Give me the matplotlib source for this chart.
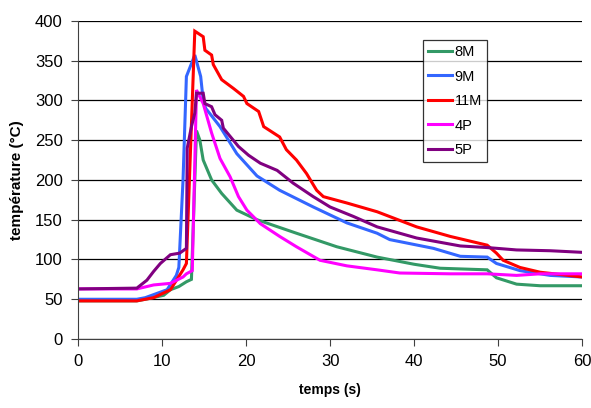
import numpy as np
import matplotlib.pyplot as plt

plt.rcParams['font.family'] = ['Liberation Sans', 'DejaVu Sans']

# ---- data ----
t_8m = [0, 7, 8, 10.2, 11, 12, 12.9, 13.5, 14.1, 14.5, 14.9, 15.9, 17.1, 18.9, 21.3,
        26, 30.8, 35.6, 40, 43.1, 48.7, 49.8, 52.2, 55, 60]
v_8m = [48, 48, 50, 55, 62, 66, 72, 75, 262, 250, 225, 200, 183, 162, 150,
        133, 116, 103, 94, 89, 87, 77, 69, 67, 67]

t_9m = [0, 7, 8, 10.6, 11.7, 12.0, 12.5, 12.9, 13.9, 14.6, 14.9, 15.2, 16.9, 18.9,
        21.3, 24, 28, 32, 35.6, 37.1, 42.3, 45.5, 48.7, 49.8, 52.6, 56.2, 60]
v_9m = [50, 50, 52, 62, 80, 90, 200, 330, 357, 330, 300, 290, 267, 233,
        205, 187, 166, 146, 133, 125, 114, 104, 103, 95, 86, 80, 78]

t_11m = [0, 7, 9, 11, 12.5, 12.9, 13.9, 14.9, 15.1, 15.9, 16.1, 17.1, 18.5, 19.7,
         20.1, 21.5, 22.1, 24, 24.8, 26, 27.2, 28.4, 29.2, 32, 35.6, 40.3, 44.3,
         48.7, 49.8, 50.6, 52.6, 55, 60]
v_11m = [48, 48, 52, 62, 87, 95, 387, 380, 363, 357, 345, 326, 315, 305,
         296, 286, 267, 254, 238, 225, 208, 187, 179, 171, 160, 141, 129,
         118, 108, 99, 90, 84, 78]

t_4p = [0, 7, 9, 11, 12.5, 12.9, 13.6, 14.1, 14.9, 15.9, 16.9, 18.1, 19.1, 20.1,
        21.7, 24, 26, 28.8, 32, 35.6, 38.3, 44.3, 48.7, 52.2, 55, 60]
v_4p = [63, 63, 68, 70, 78, 82, 86, 313, 296, 259, 227, 204, 179, 162,
        145, 129, 116, 99, 92, 87, 83, 82, 82, 80, 82, 82]

t_5p = [0, 7, 8.2, 9, 9.8, 11, 12.1, 12.9, 13.0, 13.5, 13.9, 14.1, 14.9, 15.1, 15.9,
        16.3, 17.1, 17.3, 19.1, 20.3, 21.7, 23.7, 25.6, 28, 30, 32.8, 35.6, 40.3,
        45.5, 48.7, 52.2, 56.2, 60]
v_5p = [63, 64, 74, 85, 95, 106, 108, 114, 240, 267, 284, 309, 309, 296, 292,
        282, 275, 265, 242, 231, 221, 212, 196, 179, 166, 154, 141, 127,
        117, 115, 112, 111, 109]

series = [
    ("8M", t_8m, v_8m, "#339966"),
    ("9M", t_9m, v_9m, "#3366FF"),
    ("11M", t_11m, v_11m, "#FF0000"),
    ("4P", t_4p, v_4p, "#FF00FF"),
    ("5P", t_5p, v_5p, "#800080"),
]

fig = plt.figure(figsize=(5.91, 4.08), dpi=100)
ax = fig.add_axes([0.132, 0.169, 0.853, 0.780])

for name, t, v, c in series:
    ax.plot(t, v, color=c, lw=2.2, label=name, solid_joinstyle="miter")

ax.set_xlim(0, 60)
ax.set_ylim(0, 400)
ax.set_xticks(np.arange(0, 61, 10))
ax.set_yticks(np.arange(0, 401, 50))
ax.grid(axis="y", color="black", lw=0.9)
ax.set_axisbelow(True)
for s in ["top", "right"]:
    ax.spines[s].set_visible(False)
for s in ["left", "bottom"]:
    ax.spines[s].set_color("#404040")
ax.tick_params(direction="out", length=5, color="#404040", labelsize=12, pad=6)

ax.set_xlabel("temps (s)", fontsize=10, fontweight="bold", labelpad=10)
ax.set_ylabel("température (°C)", fontsize=11, fontweight="bold", labelpad=8)

leg = ax.legend(loc="upper left", bbox_to_anchor=(0.685, 0.94), fontsize=10.5,
                frameon=True, fancybox=False, borderaxespad=0,
                handlelength=1.6, handletextpad=0.2, labelspacing=0.72,
                borderpad=0.35)
leg.get_frame().set_edgecolor("black")
leg.get_frame().set_linewidth(0.9)

fig.savefig("out.png", dpi=100)
